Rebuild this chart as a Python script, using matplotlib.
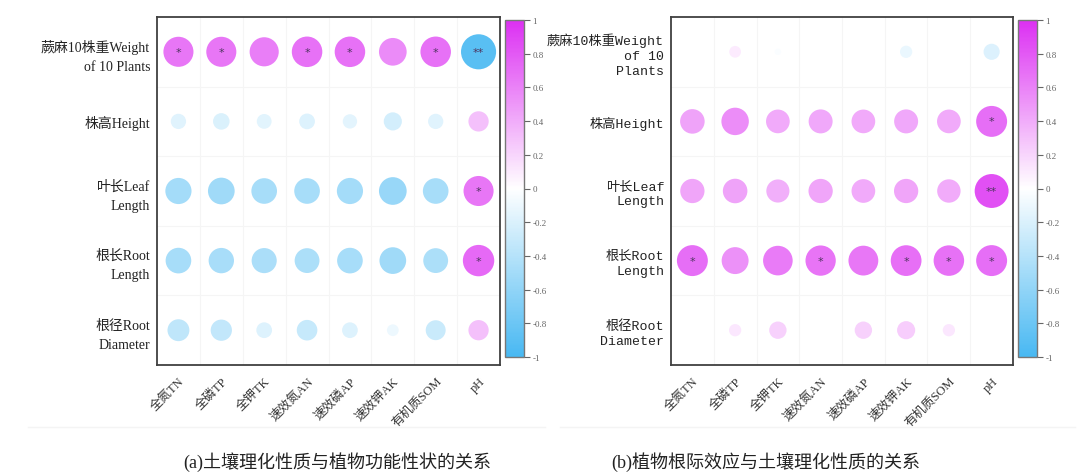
import numpy as np
import matplotlib
matplotlib.use("Agg")
import matplotlib.pyplot as plt
from matplotlib.colors import LinearSegmentedColormap, Normalize
from matplotlib.cm import ScalarMappable
from matplotlib.lines import Line2D

# ---------------- data ----------------
soil_props = ["全氮TN", "全磷TP", "全钾TK", "速效氮AN", "速效磷AP", "速效钾AK", "有机质SOM", "pH"]
traits_a = ["蕨麻10株重Weight\nof 10 Plants", "株高Height", "叶长Leaf\nLength", "根长Root\nLength", "根径Root\nDiameter"]
traits_b = ["蕨麻10株重Weight\nof 10\nPlants", "株高Height", "叶长Leaf\nLength", "根长Root\nLength", "根径Root\nDiameter"]

r_a = [
    [0.66, 0.66, 0.62, 0.68, 0.68, 0.56, 0.68, -0.90],
    [-0.17, -0.20, -0.16, -0.18, -0.15, -0.24, -0.17, 0.30],
    [-0.50, -0.52, -0.48, -0.48, -0.50, -0.56, -0.48, 0.66],
    [-0.48, -0.47, -0.46, -0.45, -0.48, -0.52, -0.45, 0.72],
    [-0.35, -0.33, -0.18, -0.31, -0.18, -0.10, -0.29, 0.30],
]
sig_a = [
    ["*", "*", "", "*", "*", "", "*", "**"],
    ["", "", "", "", "", "", "", ""],
    ["", "", "", "", "", "", "", "*"],
    ["", "", "", "", "", "", "", "*"],
    ["", "", "", "", "", "", "", ""],
]

r_b = [
    [0.0, 0.10, -0.03, 0.0, 0.0, -0.11, 0.0, -0.19],
    [0.44, 0.55, 0.41, 0.42, 0.41, 0.42, 0.41, 0.70],
    [0.43, 0.44, 0.39, 0.43, 0.41, 0.43, 0.40, 0.84],
    [0.70, 0.53, 0.64, 0.67, 0.65, 0.69, 0.68, 0.70],
    [0.0, 0.11, 0.22, 0.0, 0.22, 0.24, 0.11, 0.0],
]
sig_b = [
    ["", "", "", "", "", "", "", ""],
    ["", "", "", "", "", "", "", "*"],
    ["", "", "", "", "", "", "", "**"],
    ["*", "", "", "*", "", "*", "*", "*"],
    ["", "", "", "", "", "", "", ""],
]

cbar_ticks = [-1, -0.8, -0.6, -0.4, -0.2, 0, 0.2, 0.4, 0.6, 0.8, 1]
cbar_ticklabels = ["-1", "-0.8", "-0.6", "-0.4", "-0.2", "0", "0.2", "0.4", "0.6", "0.8", "1"]

caption_a = "(a)土壤理化性质与植物功能性状的关系"
caption_b = "(b)植物根际效应与土壤理化性质的关系"

# ---------------- style ----------------
SERIF = ["Liberation Serif", "Noto Sans CJK SC", "DejaVu Sans"]
MONO = ["Liberation Mono", "Noto Sans CJK SC", "DejaVu Sans"]
plt.rcParams["font.family"] = SERIF

cmap = LinearSegmentedColormap.from_list("corr", ["#48B8F2", "#FFFFFF", "#DC30F2"])
norm = Normalize(-1, 1)

W, H = 1090, 477
fig = plt.figure(figsize=(W / 100, H / 100), dpi=100)

def px_rect(x0, y0, x1, y1):
    return [x0 / W, 1 - y1 / H, (x1 - x0) / W, (y1 - y0) / H]

D_PX = 37.0  # circle diameter (px) for |r| = 1


def panel(ax_rect, cb_rect, r, sig, ylabels, yfamily, ysize, yspacing):
    ax = fig.add_axes(px_rect(*ax_rect))
    r = np.array(r)
    nrow, ncol = r.shape
    xx, yy = np.meshgrid(np.arange(ncol), np.arange(nrow))
    diam_pt = D_PX * np.sqrt(np.abs(r)) * 72 / 100
    ax.scatter(xx.ravel(), yy.ravel(), s=(diam_pt ** 2).ravel(), c=r.ravel(),
               cmap=cmap, norm=norm, edgecolors="none", zorder=3)
    for i in range(nrow):
        for j in range(ncol):
            if sig[i][j]:
                ax.text(j, i, sig[i][j], ha="center", va="center", fontsize=8,
                        color="#4e3560", family=["DejaVu Sans"], zorder=4)
    ax.set_xlim(-0.5, ncol - 0.5)
    ax.set_ylim(nrow - 0.5, -0.5)
    for k in range(1, ncol):
        ax.axvline(k - 0.5, color="#f5f5f5", lw=0.8, zorder=1)
    for k in range(1, nrow):
        ax.axhline(k - 0.5, color="#f5f5f5", lw=0.8, zorder=1)
    ax.set_xticks(range(ncol))
    ax.set_xticklabels(soil_props, rotation=45, ha="right", va="top",
                       rotation_mode="anchor", fontsize=9, color="#333333")
    ax.set_yticks(range(nrow))
    ax.set_yticklabels(ylabels, fontsize=ysize, color="#222222", family=yfamily,
                       linespacing=yspacing)
    ax.tick_params(length=0, pad=5)
    ax.tick_params(axis="x", pad=7)
    for s in ax.spines.values():
        s.set_color("#404040")
        s.set_linewidth(1.3)

    cax = fig.add_axes(px_rect(*cb_rect))
    cb = fig.colorbar(ScalarMappable(norm=norm, cmap=cmap), cax=cax, ticks=cbar_ticks)
    cb.ax.set_yticklabels(cbar_ticklabels)
    cb.ax.tick_params(labelsize=6.5, colors="#666666", length=4, width=0.8, pad=2)
    cb.outline.set_edgecolor("#777777")
    cb.outline.set_linewidth(1.0)
    return ax


panel((157, 18, 500, 366), (505, 21, 524, 358), r_a, sig_a, traits_a, SERIF, 10, 1.6)
panel((671, 18, 1013, 366), (1018, 21, 1037, 358), r_b, sig_b, traits_b, MONO, 9.5, 1.3)

# faint separation lines below the panels
fig.add_artist(Line2D([28 / W, 545 / W], [1 - 428 / H] * 2, color="#f4f4f4", lw=1.0))
fig.add_artist(Line2D([560 / W, 1075 / W], [1 - 428 / H] * 2, color="#f4f4f4", lw=1.0))

fig.text(337 / W, 1 - 462 / H, caption_a, ha="center", va="center", fontsize=13, color="#222222")
fig.text(766 / W, 1 - 462 / H, caption_b, ha="center", va="center", fontsize=13, color="#222222")

fig.savefig("out.png", dpi=100, facecolor="white")
